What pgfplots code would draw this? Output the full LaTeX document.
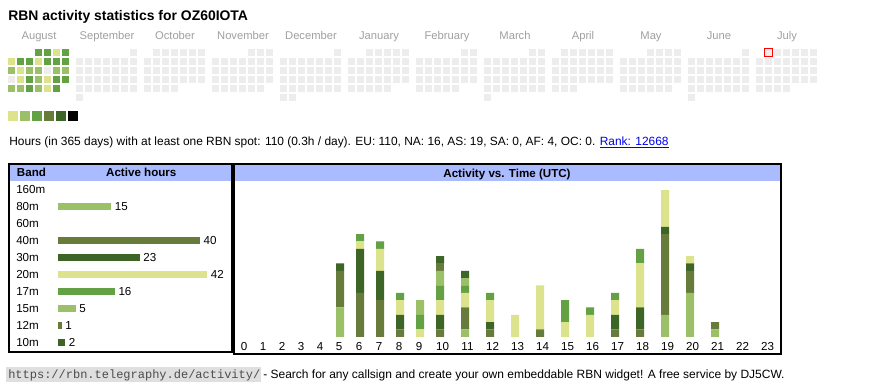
\documentclass[border=0pt]{standalone}
\usepackage{fontspec}
\setmainfont{Liberation Sans}
\setmonofont{Liberation Mono}
\usepackage{pgfplots}
\usepackage{pgfplotstable}
\pgfplotsset{compat=1.18}
\definecolor{cA}{HTML}{DCE38C}
\definecolor{cB}{HTML}{9CC068}
\definecolor{cC}{HTML}{64A044}
\definecolor{cD}{HTML}{677B3A}
\definecolor{cE}{HTML}{3C6527}
\definecolor{cG}{HTML}{EDEDED}
\definecolor{hdr}{HTML}{AABBFF}
\definecolor{lnk}{HTML}{0000EE}
\definecolor{mon}{HTML}{A0A0A0}
\definecolor{markred}{HTML}{FF0000}
\newcommand{\fs}[1]{\fontsize{#1}{#1}\selectfont}

% calendar cells: month index (0=Aug ... 11=Jul), week row, weekday column, level (9 = today)
\pgfplotstableread[row sep=\\]{
m r c k\\
0 1 4 3\\ 0 1 5 3\\ 0 1 6 1\\ 0 1 7 3\\
0 2 1 1\\ 0 2 2 3\\ 0 2 3 3\\ 0 2 4 1\\ 0 2 5 3\\ 0 2 6 3\\ 0 2 7 3\\
0 3 1 2\\ 0 3 2 1\\ 0 3 3 2\\ 0 3 4 2\\ 0 3 5 0\\ 0 3 6 2\\ 0 3 7 2\\
0 4 1 0\\ 0 4 2 1\\ 0 4 3 3\\ 0 4 4 2\\ 0 4 5 1\\ 0 4 6 3\\ 0 4 7 3\\
0 5 1 2\\ 0 5 2 2\\ 0 5 3 3\\ 0 5 4 2\\ 0 5 5 1\\ 0 5 6 3\\
1 1 7 0\\
1 2 1 0\\ 1 2 2 0\\ 1 2 3 0\\ 1 2 4 0\\ 1 2 5 0\\ 1 2 6 0\\ 1 2 7 0\\
1 3 1 0\\ 1 3 2 0\\ 1 3 3 0\\ 1 3 4 0\\ 1 3 5 0\\ 1 3 6 0\\ 1 3 7 0\\
1 4 1 0\\ 1 4 2 0\\ 1 4 3 0\\ 1 4 4 0\\ 1 4 5 0\\ 1 4 6 0\\ 1 4 7 0\\
1 5 1 0\\ 1 5 2 0\\ 1 5 3 0\\ 1 5 4 0\\ 1 5 5 0\\ 1 5 6 0\\ 1 5 7 0\\
1 6 1 0\\
2 1 2 0\\ 2 1 3 0\\ 2 1 4 0\\ 2 1 5 0\\ 2 1 6 0\\ 2 1 7 0\\
2 2 1 0\\ 2 2 2 0\\ 2 2 3 0\\ 2 2 4 0\\ 2 2 5 0\\ 2 2 6 0\\ 2 2 7 0\\
2 3 1 0\\ 2 3 2 0\\ 2 3 3 0\\ 2 3 4 0\\ 2 3 5 0\\ 2 3 6 0\\ 2 3 7 0\\
2 4 1 0\\ 2 4 2 0\\ 2 4 3 0\\ 2 4 4 0\\ 2 4 5 0\\ 2 4 6 0\\ 2 4 7 0\\
2 5 1 0\\ 2 5 2 0\\ 2 5 3 0\\ 2 5 4 0\\
3 1 5 0\\ 3 1 6 0\\ 3 1 7 0\\
3 2 1 0\\ 3 2 2 0\\ 3 2 3 0\\ 3 2 4 0\\ 3 2 5 0\\ 3 2 6 0\\ 3 2 7 0\\
3 3 1 0\\ 3 3 2 0\\ 3 3 3 0\\ 3 3 4 0\\ 3 3 5 0\\ 3 3 6 0\\ 3 3 7 0\\
3 4 1 0\\ 3 4 2 0\\ 3 4 3 0\\ 3 4 4 0\\ 3 4 5 0\\ 3 4 6 0\\ 3 4 7 0\\
3 5 1 0\\ 3 5 2 0\\ 3 5 3 0\\ 3 5 4 0\\ 3 5 5 0\\ 3 5 6 0\\
4 1 7 0\\
4 2 1 0\\ 4 2 2 0\\ 4 2 3 0\\ 4 2 4 0\\ 4 2 5 0\\ 4 2 6 0\\ 4 2 7 0\\
4 3 1 0\\ 4 3 2 0\\ 4 3 3 0\\ 4 3 4 0\\ 4 3 5 0\\ 4 3 6 0\\ 4 3 7 0\\
4 4 1 0\\ 4 4 2 0\\ 4 4 3 0\\ 4 4 4 0\\ 4 4 5 0\\ 4 4 6 0\\ 4 4 7 0\\
4 5 1 0\\ 4 5 2 0\\ 4 5 3 0\\ 4 5 4 0\\ 4 5 5 0\\ 4 5 6 0\\ 4 5 7 0\\
4 6 1 0\\ 4 6 2 0\\
5 1 3 0\\ 5 1 4 0\\ 5 1 5 0\\ 5 1 6 0\\ 5 1 7 0\\
5 2 1 0\\ 5 2 2 0\\ 5 2 3 0\\ 5 2 4 0\\ 5 2 5 0\\ 5 2 6 0\\ 5 2 7 0\\
5 3 1 0\\ 5 3 2 0\\ 5 3 3 0\\ 5 3 4 0\\ 5 3 5 0\\ 5 3 6 0\\ 5 3 7 0\\
5 4 1 0\\ 5 4 2 0\\ 5 4 3 0\\ 5 4 4 0\\ 5 4 5 0\\ 5 4 6 0\\ 5 4 7 0\\
5 5 1 0\\ 5 5 2 0\\ 5 5 3 0\\ 5 5 4 0\\ 5 5 5 0\\
6 1 6 0\\ 6 1 7 0\\
6 2 1 0\\ 6 2 2 0\\ 6 2 3 0\\ 6 2 4 0\\ 6 2 5 0\\ 6 2 6 0\\ 6 2 7 0\\
6 3 1 0\\ 6 3 2 0\\ 6 3 3 0\\ 6 3 4 0\\ 6 3 5 0\\ 6 3 6 0\\ 6 3 7 0\\
6 4 1 0\\ 6 4 2 0\\ 6 4 3 0\\ 6 4 4 0\\ 6 4 5 0\\ 6 4 6 0\\ 6 4 7 0\\
6 5 1 0\\ 6 5 2 0\\ 6 5 3 0\\ 6 5 4 0\\ 6 5 5 0\\
7 1 6 0\\ 7 1 7 0\\
7 2 1 0\\ 7 2 2 0\\ 7 2 3 0\\ 7 2 4 0\\ 7 2 5 0\\ 7 2 6 0\\ 7 2 7 0\\
7 3 1 0\\ 7 3 2 0\\ 7 3 3 0\\ 7 3 4 0\\ 7 3 5 0\\ 7 3 6 0\\ 7 3 7 0\\
7 4 1 0\\ 7 4 2 0\\ 7 4 3 0\\ 7 4 4 0\\ 7 4 5 0\\ 7 4 6 0\\ 7 4 7 0\\
7 5 1 0\\ 7 5 2 0\\ 7 5 3 0\\ 7 5 4 0\\ 7 5 5 0\\ 7 5 6 0\\ 7 5 7 0\\
7 6 1 0\\
8 1 2 0\\ 8 1 3 0\\ 8 1 4 0\\ 8 1 5 0\\ 8 1 6 0\\ 8 1 7 0\\
8 2 1 0\\ 8 2 2 0\\ 8 2 3 0\\ 8 2 4 0\\ 8 2 5 0\\ 8 2 6 0\\ 8 2 7 0\\
8 3 1 0\\ 8 3 2 0\\ 8 3 3 0\\ 8 3 4 0\\ 8 3 5 0\\ 8 3 6 0\\ 8 3 7 0\\
8 4 1 0\\ 8 4 2 0\\ 8 4 3 0\\ 8 4 4 0\\ 8 4 5 0\\ 8 4 6 0\\ 8 4 7 0\\
8 5 1 0\\ 8 5 2 0\\ 8 5 3 0\\
9 1 4 0\\ 9 1 5 0\\ 9 1 6 0\\ 9 1 7 0\\
9 2 1 0\\ 9 2 2 0\\ 9 2 3 0\\ 9 2 4 0\\ 9 2 5 0\\ 9 2 6 0\\ 9 2 7 0\\
9 3 1 0\\ 9 3 2 0\\ 9 3 3 0\\ 9 3 4 0\\ 9 3 5 0\\ 9 3 6 0\\ 9 3 7 0\\
9 4 1 0\\ 9 4 2 0\\ 9 4 3 0\\ 9 4 4 0\\ 9 4 5 0\\ 9 4 6 0\\ 9 4 7 0\\
9 5 1 0\\ 9 5 2 0\\ 9 5 3 0\\ 9 5 4 0\\ 9 5 5 0\\ 9 5 6 0\\
10 1 7 0\\
10 2 1 0\\ 10 2 2 0\\ 10 2 3 0\\ 10 2 4 0\\ 10 2 5 0\\ 10 2 6 0\\ 10 2 7 0\\
10 3 1 0\\ 10 3 2 0\\ 10 3 3 0\\ 10 3 4 0\\ 10 3 5 0\\ 10 3 6 0\\ 10 3 7 0\\
10 4 1 0\\ 10 4 2 0\\ 10 4 3 0\\ 10 4 4 0\\ 10 4 5 0\\ 10 4 6 0\\ 10 4 7 0\\
10 5 1 0\\ 10 5 2 0\\ 10 5 3 0\\ 10 5 4 0\\ 10 5 5 0\\ 10 5 6 0\\ 10 5 7 0\\
10 6 1 0\\
11 1 2 9\\ 11 1 3 0\\ 11 1 4 0\\ 11 1 5 0\\ 11 1 6 0\\ 11 1 7 0\\
11 2 1 0\\ 11 2 2 0\\ 11 2 3 0\\ 11 2 4 0\\ 11 2 5 0\\ 11 2 6 0\\ 11 2 7 0\\
11 3 1 0\\ 11 3 2 0\\ 11 3 3 0\\ 11 3 4 0\\ 11 3 5 0\\ 11 3 6 0\\ 11 3 7 0\\
11 4 1 0\\ 11 4 2 0\\ 11 4 3 0\\ 11 4 4 0\\ 11 4 5 0\\ 11 4 6 0\\ 11 4 7 0\\
11 5 1 0\\ 11 5 2 0\\ 11 5 3 0\\ 11 5 4 0\\
}\calcells

% legend squares: position index, level
\pgfplotstableread{
i k
0 1
1 2
2 3
3 4
4 5
5 6
}\legcells

% active hours per UTC hour and band (bar centre in px)
\pgfplotstableread{
h  x   b80 b40 b30 b20 b17 b15 b12 b10
0  245 0 0 0 0 0 0 0 0
1  264 0 0 0 0 0 0 0 0
2  283 0 0 0 0 0 0 0 0
3  302 0 0 0 0 0 0 0 0
4  321 0 0 0 0 0 0 0 0
5  340 4 5 1 0 0 0 0 0
6  360 0 6 6 1 1 0 0 0
7  380 0 5 4 3 1 0 0 0
8  400 0 1 2 2 1 0 0 0
9  420 0 0 0 1 2 2 0 0
10 440 0 1 2 2 2 2 1 1
11 465 1 3 0 2 1 1 0 1
12 490 0 1 1 3 1 0 0 0
13 515 0 0 0 3 0 0 0 0
14 540 0 1 0 6 0 0 0 0
15 565 0 0 0 2 3 0 0 0
16 590 0 0 0 3 1 0 0 0
17 615 0 1 2 2 1 0 0 0
18 640 0 1 3 6 2 0 0 0
19 665 3 11 1 5 0 0 0 0
20 690 6 3 1 1 0 0 0 0
21 715 1 1 0 0 0 0 0 0
22 740 0 0 0 0 0 0 0 0
23 765 0 0 0 0 0 0 0 0
}\hours

\pgfplotsset{
  cell/.style={only marks, mark=square*, mark size=2.625pt,
    mark options={fill=#1, draw opacity=0, line width=0pt}},
  leg/.style={only marks, mark=square*, mark size=3.75pt,
    mark options={fill=#1, draw opacity=0, line width=0pt}},
}

\begin{document}
\begin{tikzpicture}[x=0.75pt,y=-0.75pt]
\useasboundingbox (0,0) rectangle (870,390);
\fill[white] (0,0) rectangle (870,390);

% title
\node[anchor=base west, inner sep=0, font=\bfseries\fs{10.45}] at (8,20.7) {RBN activity statistics for OZ60IOTA};

% calendar heat map
\begin{axis}[at={(0,0)}, anchor=north west, x=0.75pt, y=0.75pt, y dir=reverse,
  xmin=0, xmax=870, ymin=0, ymax=130, hide axis, clip=false, enlargelimits=false]
\addplot[cell=cG] table[x expr={68*\thisrow{m}+9*\thisrow{c}+2.5}, y expr={9*\thisrow{r}+43.5},
  restrict expr to domain={\thisrow{k}}{0:0}] {\calcells};
\addplot[cell=cA] table[x expr={68*\thisrow{m}+9*\thisrow{c}+2.5}, y expr={9*\thisrow{r}+43.5},
  restrict expr to domain={\thisrow{k}}{1:1}] {\calcells};
\addplot[cell=cB] table[x expr={68*\thisrow{m}+9*\thisrow{c}+2.5}, y expr={9*\thisrow{r}+43.5},
  restrict expr to domain={\thisrow{k}}{2:2}] {\calcells};
\addplot[cell=cC] table[x expr={68*\thisrow{m}+9*\thisrow{c}+2.5}, y expr={9*\thisrow{r}+43.5},
  restrict expr to domain={\thisrow{k}}{3:3}] {\calcells};
\addplot[cell=cG] table[x expr={68*\thisrow{m}+9*\thisrow{c}+2.5}, y expr={9*\thisrow{r}+43.5},
  restrict expr to domain={\thisrow{k}}{9:9}] {\calcells};
\addplot[color=markred, only marks, mark=square, mark size=3pt,
  mark options={color=markred, line width=0.9pt, solid}]
  table[x expr={68*\thisrow{m}+9*\thisrow{c}+2.5}, y expr={9*\thisrow{r}+43.5},
  restrict expr to domain={\thisrow{k}}{9:9}] {\calcells};
% legend
\addplot[leg=cA] table[x expr={12*\thisrow{i}+13}, y expr={115.7}, restrict expr to domain={\thisrow{k}}{1:1}] {\legcells};
\addplot[leg=cB] table[x expr={12*\thisrow{i}+13}, y expr={115.7}, restrict expr to domain={\thisrow{k}}{2:2}] {\legcells};
\addplot[leg=cC] table[x expr={12*\thisrow{i}+13}, y expr={115.7}, restrict expr to domain={\thisrow{k}}{3:3}] {\legcells};
\addplot[leg=cD] table[x expr={12*\thisrow{i}+13}, y expr={115.7}, restrict expr to domain={\thisrow{k}}{4:4}] {\legcells};
\addplot[leg=cE] table[x expr={12*\thisrow{i}+13}, y expr={115.7}, restrict expr to domain={\thisrow{k}}{5:5}] {\legcells};
\addplot[leg=black] table[x expr={12*\thisrow{i}+13}, y expr={115.7}, restrict expr to domain={\thisrow{k}}{6:6}] {\legcells};
\foreach \mname [count=\i from 0] in {August,September,October,November,December,January,February,March,April,May,June,July}{
  \pgfmathsetmacro{\mx}{68*\i+39}
  \edef\temp{\noexpand\node[anchor=base, inner sep=0, font=\noexpand\fs{8.4}, text=mon] at (axis cs:\mx,39) {\mname};}
  \temp
}
\end{axis}

% summary line
\node[anchor=base west, inner sep=0, font=\fs{8.95}] at (9,145.3) {Hours (in 365 days) with at least one RBN spot: 110 (0.3h / day). EU: 110, NA: 16, AS: 19, SA: 0, AF: 4, OC: 0. \textcolor{lnk}{\underline{Rank: 12668}}};

% table headers
\fill[hdr] (10.3,165.3) rectangle (231,181);
\fill[hdr] (234.7,165.3) rectangle (779.7,180.7);
\node[anchor=base west, inner sep=0, font=\bfseries\fs{8.7}] at (16.7,176.7) {Band};
\node[anchor=base, inner sep=0, font=\bfseries\fs{8.7}] at (141.3,176.7) {Active hours};
\node[anchor=base, inner sep=0, font=\bfseries\fs{8.7}] at (507,177) {Activity vs. Time (UTC)};

% band chart
\coordinate (bandNW) at (58,180.8);
\begin{axis}[at={(bandNW)}, anchor=north west, x=2.6625pt, y=12.7275pt, y dir=reverse,
  xmin=0, xmax=48, ymin=-0.5, ymax=9.5, enlargelimits=false, clip=false,
  xbar, bar width=5.25pt,
  axis line style={draw=none}, tick style={draw=none}, major tick length=0pt,
  xtick=\empty, ytick={0,...,9},
  yticklabels={160m,80m,60m,40m,30m,20m,17m,15m,12m,10m},
  yticklabel style={anchor=base west, inner sep=0pt, xshift=-31.5pt, yshift=-3pt, font=\fs{8.7}},
  /pgf/number format/assume math mode=true,
  point meta=x, nodes near coords,
  every node near coord/.append style={font=\fs{8.7}, anchor=west, inner sep=0pt, xshift=2.6pt}]
\addplot[xbar, bar shift=0pt, fill=cB, draw=none] coordinates {(15,1)};
\addplot[xbar, bar shift=0pt, fill=cD, draw=none] coordinates {(40,3)};
\addplot[xbar, bar shift=0pt, fill=cE, draw=none] coordinates {(23,4)};
\addplot[xbar, bar shift=0pt, fill=cA, draw=none] coordinates {(42,5)};
\addplot[xbar, bar shift=0pt, fill=cC, draw=none] coordinates {(16,6)};
\addplot[xbar, bar shift=0pt, fill=cB, draw=none] coordinates {(5,7)};
\addplot[xbar, bar shift=0pt, fill=cD, draw=none] coordinates {(1,8)};
\addplot[xbar, bar shift=0pt, fill=cE, draw=none] coordinates {(2,9)};
\end{axis}

% activity vs time chart
\coordinate (hrSW) at (234,336.8);
\begin{axis}[at={(hrSW)}, anchor=south west, x=0.75pt, y=5.5pt,
  xmin=234, xmax=778, ymin=0, ymax=21, enlargelimits=false, clip=false,
  ybar stacked, bar width=6pt,
  axis line style={draw=none}, tick style={draw=none}, major tick length=0pt,
  ytick=\empty,
  xtick={244,263,282,301,320,339,359,379,399,419,442.5,467.5,492.5,517.5,542.5,567.5,592.5,617.5,642.5,667.5,692.5,717.5,742.5,767.5},
  xticklabels={0,1,2,3,4,5,6,7,8,9,10,11,12,13,14,15,16,17,18,19,20,21,22,23},
  xticklabel style={anchor=base, inner sep=0pt, yshift=-9.9pt, font=\fs{8.7}}]
\addplot[fill=cB, draw=none] table[x=x, y=b80] {\hours};
\addplot[fill=cD, draw=none] table[x=x, y=b40] {\hours};
\addplot[fill=cE, draw=none] table[x=x, y=b30] {\hours};
\addplot[fill=cA, draw=none] table[x=x, y=b20] {\hours};
\addplot[fill=cC, draw=none] table[x=x, y=b17] {\hours};
\addplot[fill=cB, draw=none] table[x=x, y=b15] {\hours};
\addplot[fill=cD, draw=none] table[x=x, y=b12] {\hours};
\addplot[fill=cE, draw=none] table[x=x, y=b10] {\hours};
\end{axis}

% panel borders
\draw[line width=1.5pt] (9.3,164.3) rectangle (231.7,351.7);
\draw[line width=1.5pt] (233.7,164.3) rectangle (780.7,353.8);

% footer
\fill[gray!25] (6,366.5) rectangle (261,382);
\node[anchor=base west, inner sep=0, font=\ttfamily\fs{9}, text=black!70] at (8,378) {https://rbn.telegraphy.de/activity/};
\node[anchor=base west, inner sep=0, font=\fs{9}] at (263,378) {- Search for any callsign and create your own embeddable RBN widget! A free service by DJ5CW.};
\end{tikzpicture}
\end{document}
